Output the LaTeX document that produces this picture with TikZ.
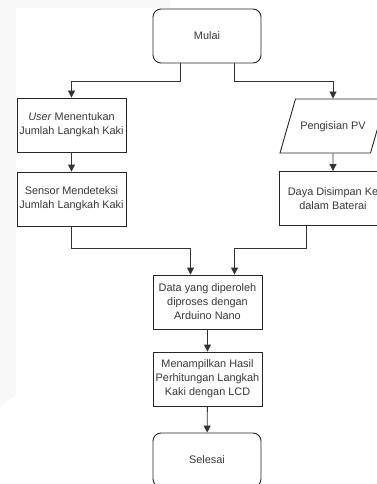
\documentclass[tikz,border=0pt]{standalone}
\usepackage{fontspec}
\setmainfont{Liberation Sans}
\usetikzlibrary{shapes.geometric,arrows.meta}
\definecolor{txtgray}{HTML}{383838}
\definecolor{bggray}{HTML}{F8F8F8}
\begin{document}
\begin{tikzpicture}[x=1pt,y=-1pt,
    box/.style={draw=black!85,line width=0.9pt,minimum width=109pt,minimum height=54pt,
      inner sep=0pt,align=center,text=txtgray,font=\fontsize{10.9}{14}\selectfont},
    terminal/.style={box,rounded corners=8pt,minimum width=108pt},
    io/.style={box,trapezium,trapezium left angle=74,trapezium right angle=106,
      trapezium stretches body,minimum width=106pt,text height=8pt,text depth=2pt,
      inner ysep=22pt},
    arr/.style={draw=black!80,line width=0.9pt,-{Triangle[length=7pt,width=7pt]}}]
  \useasboundingbox (0,0) rectangle (377,484);
  \fill[bggray] (0,0) -- (170,0) -- (170,8) -- (16,8) -- (16,395) -- (0,407) -- cycle;
  \draw
    (207,36) node[terminal] (mulai){Mulai}
    (71.5,125) node[box] (user){\textit{User} Menentukan\\Jumlah Langkah Kaki}
    (333,126) node[io] (pv){Pengisian PV}
    (71.5,199) node[box] (sensor){Sensor Mendeteksi\\Jumlah Langkah Kaki}
    (333,198.5) node[box,minimum width=108pt] (daya){Daya Disimpan Ke\\dalam Baterai}
    (207.5,302) node[box] (data){Data yang diperoleh\\diproses dengan\\Arduino Nano}
    (207.5,379) node[box] (tampil){Menampilkan Hasil\\Perhitungan Langkah\\Kaki dengan LCD}
    (207,460) node[terminal] (selesai){Selesai};
  \begin{scope}[arr]
    \draw ([xshift=-27pt]mulai.south) -- ++(0,18) -| (user.north);
    \draw ([xshift=27pt]mulai.south) -- ++(0,18) -| (pv.north);
    \draw (user) to (sensor);
    \draw (pv) to (daya);
    \draw (sensor.south) -- ++(0,22) -| ([xshift=-17pt]data.north);
    \draw ([xshift=-27pt]daya.south) -- ++(0,22) -| ([xshift=27pt]data.north);
    \draw (data) to (tampil);
    \draw (tampil) to (selesai);
  \end{scope}
\end{tikzpicture}
\end{document}
